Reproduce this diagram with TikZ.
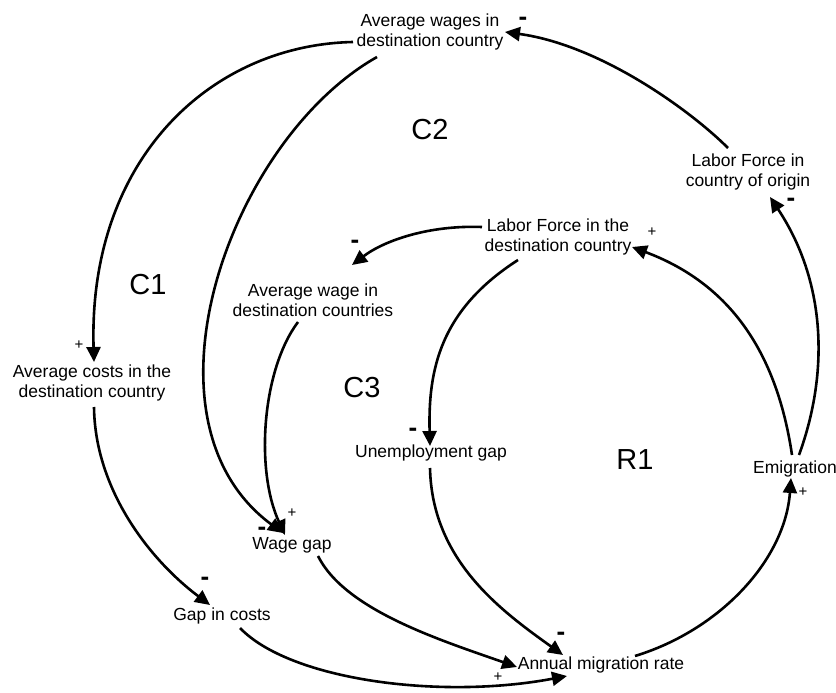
\documentclass[tikz,border=0pt]{standalone}
\usepackage{fontspec}
\setmainfont{Liberation Sans}
\usetikzlibrary{arrows.meta,calc}
\begin{document}
\begin{tikzpicture}[x=1pt,y=-1pt,
  lbl/.style={font=\fontsize{17.5}{20.5}\selectfont, align=center, inner sep=0pt},
  loopname/.style={font=\fontsize{29}{34}\selectfont, inner sep=0pt},
  plus/.style={font=\fontsize{15}{17}\selectfont, inner sep=0pt},
  minus/.style={font=\fontsize{26}{28}\selectfont\bfseries, inner sep=0pt},
  link/.style={line width=2.6pt, -{Triangle[length=15pt,width=14pt]}}
]
\useasboundingbox (0,0) rectangle (836,693);
% variables
\node[lbl] (aw)  at (430,32)  {Average wages in\\destination country};
\node[lbl] (lfo) at (748,172) {Labor Force in\\country of origin};
\node[lbl] (lfd) at (558,237) {Labor Force in the\\destination country};
\node[lbl] (awd) at (313,300) {Average wage in\\destination countries};
\node[lbl] (acd) at (92,383)  {Average costs in the\\destination country};
\node[lbl] (ug)  at (431,453) {Unemployment gap};
\node[lbl] (em)  at (795,469) {Emigration};
\node[lbl] (wg)  at (292,545) {Wage gap};
\node[lbl] (gc)  at (222,616) {Gap in costs};
\node[lbl] (amr) at (601,665) {Annual migration rate};
% loop names
\node[loopname] (c2) at (430,130) {C2};
\node[loopname] (c1) at (148,285) {C1};
\node[loopname] (c3) at (362,388) {C3};
\node[loopname] (r1) at (635,460) {R1};
% links
\draw[link] ($(aw)+(-77,10)$) .. controls (210,45) and (88,160) .. ($(acd)+(2,-21)$);
\draw[link] ($(aw)+(-53,25)$) .. controls (230,140) and (130,420) .. ($(wg)+(-9,-12)$);
\draw[link] ($(awd)+(-15,22)$) .. controls (262,370) and (255,470) .. ($(wg)+(-7,-10)$);
\draw[link] ($(lfo)+(-20,-24)$) .. controls (690,110) and (600,45) .. ($(aw)+(75,0)$);
\draw[link] ($(em)+(4,-14)$) .. controls (830,370) and (825,280) .. ($(lfo)+(22,25)$);
\draw[link] ($(em)+(-3,-14)$) .. controls (775,340) and (720,280) .. ($(lfd)+(74,10)$);
\draw[link] ($(amr)+(34,-9)$) .. controls (720,630) and (785,560) .. ($(em)+(-4,9)$);
\draw[link] ($(lfd)+(-76,-10)$) .. controls (430,225) and (385,240) .. ($(awd)+(39,-35)$);
\draw[link] ($(lfd)+(-40,23)$) .. controls (440,310) and (428,370) .. ($(ug)+(-1,-7)$);
\draw[link] ($(ug)+(-1,15)$) .. controls (432,560) and (500,610) .. ($(amr)+(-38,-10)$);
\draw[link] ($(wg)+(26,11)$) .. controls (345,610) and (440,640) .. ($(amr)+(-84,2)$);
\draw[link] ($(gc)+(18,12)$) .. controls (290,680) and (440,700) .. ($(amr)+(-34,11)$);
\draw[link] ($(acd)+(2,24)$) .. controls (95,490) and (150,560) .. ($(gc)+(-12,-11)$);
% polarities
\node[plus]  (s1)  at (79,345)  {+};
\node[plus]  (s2)  at (292,513) {+};
\node[minus] (s3)  at (262,531) {-};
\node[minus] (s4)  at (523,21)  {-};
\node[minus] (s5)  at (791,202) {-};
\node[plus]  (s6)  at (652,232) {+};
\node[minus] (s7)  at (355,244) {-};
\node[minus] (s8)  at (413,432) {-};
\node[plus]  (s9)  at (803,492) {+};
\node[minus] (s10) at (561,636) {-};
\node[plus]  (s11) at (498,677) {+};
\node[minus] (s12) at (205,581) {-};
\end{tikzpicture}
\end{document}
